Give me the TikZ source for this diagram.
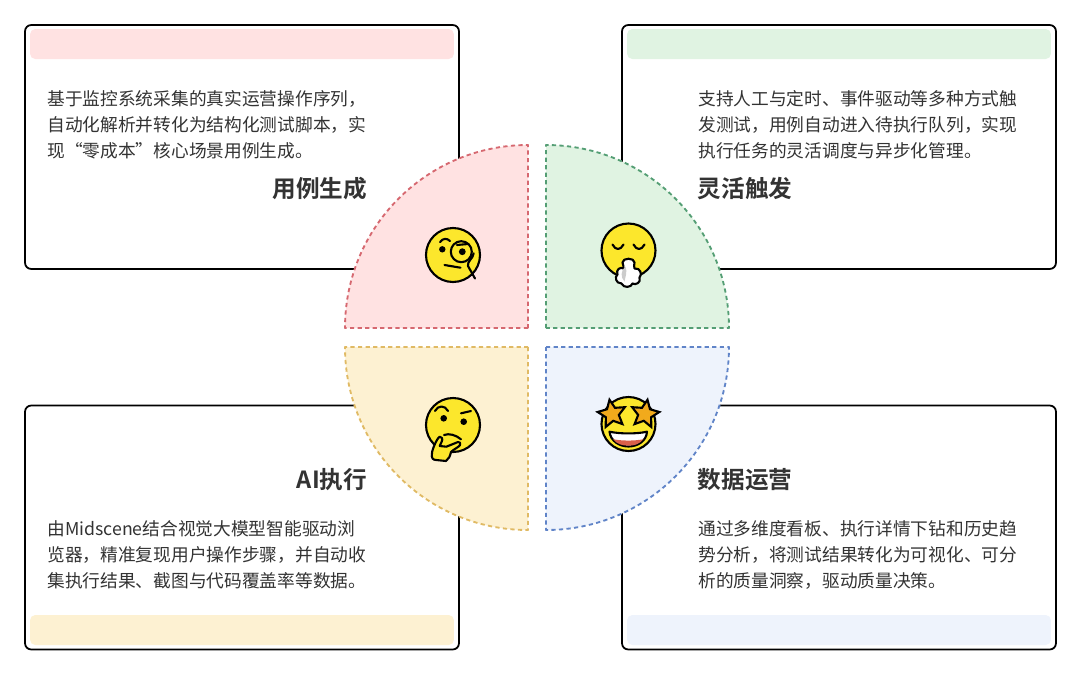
\documentclass[tikz,border=0pt]{standalone}
\usepackage{fontspec}
\setmainfont{Noto Sans CJK SC}[BoldFont={Noto Sans CJK SC Bold}]
\usetikzlibrary{shapes.geometric}
\definecolor{fillred}{RGB}{255,226,226}
\definecolor{fillgreen}{RGB}{224,243,226}
\definecolor{fillyellow}{RGB}{253,241,210}
\definecolor{fillblue}{RGB}{238,243,252}
\definecolor{linered}{RGB}{214,104,112}
\definecolor{linegreen}{RGB}{84,158,116}
\definecolor{lineyellow}{RGB}{224,186,100}
\definecolor{lineblue}{RGB}{96,132,200}
\definecolor{facecol}{RGB}{252,231,44}
\definecolor{starcol}{RGB}{241,170,28}
\definecolor{mouthcol}{RGB}{217,96,74}
\definecolor{inkcol}{RGB}{51,51,51}
\tikzset{
  cardbox/.style={draw=black,line width=1pt,fill=white,rounded corners=3.5pt,
        minimum width=8.68cm,minimum height=4.88cm,inner sep=0pt},
  barbox/.style={rounded corners=3pt,minimum width=8.48cm,minimum height=0.6cm,inner sep=0pt},
  bodytext/.style={anchor=north west,align=left,inner sep=0pt,text=inkcol,
        font=\fontsize{10.08pt}{14.8pt}\selectfont},
  titletext/.style={inner sep=0pt,text=inkcol,font=\fontsize{13.45pt}{16pt}\selectfont\bfseries},
  sector/.style={line width=1.05pt,dash pattern=on 2.4pt off 1.9pt,line join=round},
  face/.style={draw=black,fill=facecol,line width=1.2pt},
  stroke/.style={draw=black,line width=1.2pt,line cap=round,line join=round},
  dot/.style={fill=black}
}
\begin{document}
\begin{tikzpicture}[x=0.02cm,y=-0.02cm]
  \useasboundingbox[fill=white] (0,0) rectangle (1080,674);
  %% Card 1
  \node[cardbox] (genbox) at (242,147) {};
  \node[barbox,fill=fillred] (genbar) at (242,44) {};
  \node[bodytext] (gentext) at (47,90.5)
        {基于监控系统采集的真实运营操作序列，\\自动化解析并转化为结构化测试脚本，实\\现“零成本”核心场景用例生成。};
  \node[titletext,anchor=east] (gentitle) at (367.5,189) {用例生成};
  %% Card 2
  \node[cardbox] (trigbox) at (839,147) {};
  \node[barbox,fill=fillgreen] (trigbar) at (839,44) {};
  \node[bodytext] (trigtext) at (698,90.5)
        {支持人工与定时、事件驱动等多种方式触\\发测试，用例自动进入待执行队列，实现\\执行任务的灵活调度与异步化管理。};
  \node[titletext,anchor=west] (trigtitle) at (697.5,189) {灵活触发};
  %% Card 3
  \node[cardbox] (execbox) at (242,527.5) {};
  \node[barbox,fill=fillyellow] (execbar) at (242,630) {};
  \node[bodytext] (exectext) at (47,520.3)
        {由Midscene结合视觉大模型智能驱动浏\\览器，精准复现用户操作步骤，并自动收\\集执行结果、截图与代码覆盖率等数据。};
  \node[titletext,anchor=east] (exectitle) at (367.5,480) {AI执行};
  %% Card 4
  \node[cardbox] (databox) at (839,527.5) {};
  \node[barbox,fill=fillblue] (databar) at (839,630) {};
  \node[bodytext] (datatext) at (698,520.3)
        {通过多维度看板、执行详情下钻和历史趋\\势分析，将测试结果转化为可视化、可分\\析的质量洞察，驱动质量决策。};
  \node[titletext,anchor=west] (datatitle) at (697.5,480) {数据运营};
  %% Sectors
  \draw[sector,draw=linered,fill=fillred] (528,328) -- (345,328) arc[start angle=180,end angle=270,radius=183] -- cycle;
  \draw[sector,draw=linegreen,fill=fillgreen] (546,328) -- (546,145) arc[start angle=270,end angle=360,radius=183] -- cycle;
  \draw[sector,draw=lineyellow,fill=fillyellow] (528,347) -- (528,530) arc[start angle=90,end angle=180,radius=183] -- cycle;
  \draw[sector,draw=lineblue,fill=fillblue] (546,347) -- (729,347) arc[start angle=0,end angle=90,radius=183] -- cycle;
  %% Monocle face
  \begin{scope}[shift={(453,255)}]
    \draw[face] (0,0) circle (27);
    \fill[dot] (-10.7,-5.7) circle (3.2);
    \draw[stroke] (-13,-13) .. controls (-10,-17) and (-6,-17) .. (-3,-14);
    \draw[stroke] (8.3,-3.3) circle (10.5);
    \fill[dot] (9.3,-3.3) circle (3.4);
    \draw[stroke] (4,-10) -- (15,-11);
    \draw[stroke] (-8.5,10) -- (7.5,12.7);
    \draw[stroke] (20.7,-1.7) .. controls (20,4) and (14,6) .. (15,11) -- (22,23.5);
  \end{scope}
  %% Breath face
  \begin{scope}[shift={(628.5,250.5)}]
    \draw[face] (0,0) circle (27);
    \draw[stroke] (-16,-6) .. controls (-13,0) and (-8,0) .. (-5,-6);
    \draw[stroke] (5,-6) .. controls (8,0) and (13,0) .. (16,-6);
    \draw[stroke,fill=white] (-6,12) .. controls (-6,7) and (6,7) .. (6,12)
        .. controls (6,15) and (5,16) .. (6,18) .. controls (12,17) and (14,24) .. (11,27)
        .. controls (13,32) and (7,35) .. (4,33) .. controls (3,37) and (-5,38) .. (-7,33)
        .. controls (-13,33) and (-14,26) .. (-11,24) .. controls (-13,19) and (-8,16) .. (-5,18)
        .. controls (-4,16) and (-6,15) .. (-6,12) -- cycle;
    \fill[black!20] (-3,16) .. controls (-8,20) and (-8,27) .. (-4,31) .. controls (-3,26) and (-1,21) .. (-3,16) -- cycle;
  \end{scope}
  %% Thinking face
  \begin{scope}[shift={(453,425)}]
    \draw[face] (0,0) circle (27);
    \fill[dot] (-9.3,-6.7) circle (3.3);
    \fill[dot] (10.7,-3.3) circle (3.3);
    \draw[stroke] (-18,-14) .. controls (-15,-20) and (-8,-20) .. (-5,-14);
    \draw[stroke] (8,-11.7) -- (18,-14);
    \draw[stroke] (-9,10) .. controls (-4,8) and (3,10) .. (8,14.3);
    \draw[stroke,fill=facecol] (-13.3,11.7) .. controls (-16,13) and (-21,25) .. (-21,28)
        .. controls (-22,33) and (-20,35) .. (-17,35) -- (-7,36)
        .. controls (-4,34) and (-3,31) .. (-2,27) .. controls (1,24) and (6,22) .. (7,20)
        .. controls (8,18) and (7,17) .. (5,17) -- (-6.7,21.7) -- (-13.3,21)
        .. controls (-12,18) and (-10,15) .. (-11,13) .. controls (-11.5,12) and (-12.5,11.5) .. (-13.3,11.7) -- cycle;
  \end{scope}
  %% Star face
  \begin{scope}[shift={(628.5,424)}]
    \draw[face] (0,0) circle (27);
    \draw[stroke,fill=white] (-19,7.7) .. controls (-8,10) and (8,10) .. (18.5,7.7)
        .. controls (18,17) and (9,22.5) .. (0,22.5) .. controls (-9,22.5) and (-18,17) .. (-19,7.7) -- cycle;
    \fill[mouthcol] (-15.5,15.2) .. controls (-6,17) and (6,17) .. (15,15.2)
        .. controls (11,20) and (6,21.7) .. (0,21.7) .. controls (-6,21.7) and (-12,20) .. (-15.5,15.2) -- cycle;
    \node[star,star points=5,star point ratio=2.1,draw=black,line width=1.2pt,fill=starcol,
          minimum size=0.58cm,inner sep=0pt,rotate=10] (leftstar) at (-16.5,-10) {};
    \node[star,star points=5,star point ratio=2.1,draw=black,line width=1.2pt,fill=starcol,
          minimum size=0.58cm,inner sep=0pt,rotate=-10] (rightstar) at (16.5,-10) {};
  \end{scope}
\end{tikzpicture}
\end{document}
